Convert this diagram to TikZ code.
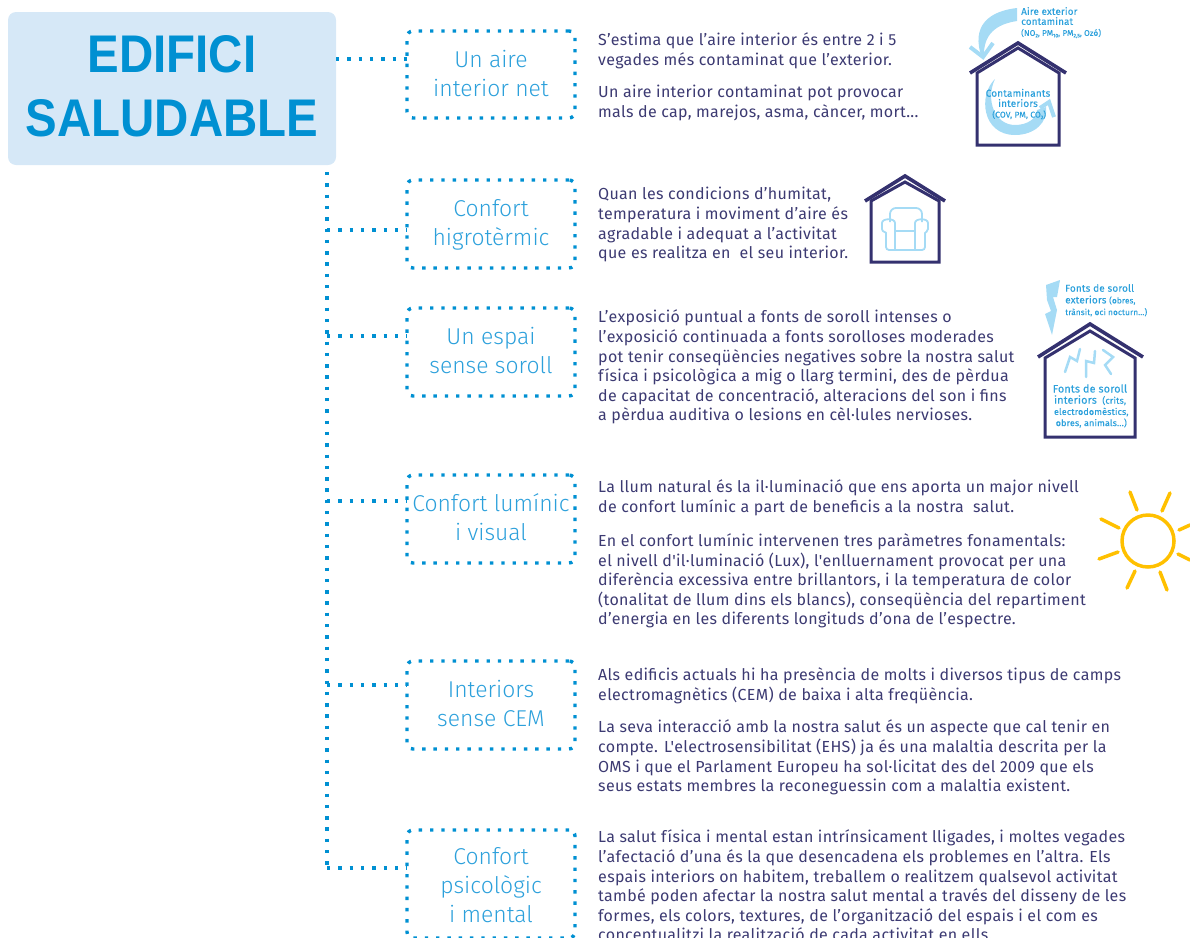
\documentclass[tikz,border=0pt]{standalone}
\usepackage{fontspec}
\setmainfont{Fira Sans Light}
\newfontfamily\bodyf[LetterSpace=2]{Fira Sans}
\newfontfamily\regf[LetterSpace=1.5,FakeBold=0.25]{Fira Sans}
\newfontfamily\titlef[FakeStretch=0.895]{Liberation Sans}
\definecolor{bluedark}{HTML}{0090D2}
\definecolor{bluelabel}{HTML}{2CA0DB}
\definecolor{bluelight}{HTML}{A5DBF5}
\definecolor{titlebg}{HTML}{D6E8F7}
\definecolor{indigo}{HTML}{34316F}
\definecolor{bodyc}{HTML}{3C3A72}
\definecolor{sunc}{HTML}{FFC000}
\tikzset{
  x=1pt,y=-1pt,
  dotline/.style={draw=bluedark,line width=3.4pt,dash pattern=on 3.4pt off 7.9pt},
  labelbox/.style={dotline,outer sep=0pt,rounded corners=6pt,minimum width=168pt,inner sep=0pt,align=center,text=bluelabel,font=\fontsize{22.9}{29}\selectfont,anchor=north west},
  bodytxt/.style={anchor=north west,inner sep=0pt,align=left,text=bodyc,font=\bodyf\fontsize{16}{19.6}\selectfont},
  wall/.style={draw=indigo,line width=3pt,line join=miter},
  roof/.style={draw=indigo,line width=3.6pt,line join=miter},
  tinya/.style={inner sep=0pt,align=left,anchor=north west,text=bluelabel,font=\regf\fontsize{9.8}{10}\selectfont},
  tinyb/.style={inner sep=0pt,align=center,text=bluelabel,font=\regf\fontsize{10}{10.2}\selectfont},
  lightline/.style={draw=bluelight,line width=4pt,line join=miter},
  bolt/.style={draw=bluelight,line width=2.5pt,line cap=round},
  chair/.style={draw=bluelight,line width=1.8pt,rounded corners=3pt},
  ray/.style={draw=sunc,line width=3.5pt,line cap=round}
}
\newcommand{\smalltxt}[1][8.2]{\fontsize{#1}{8}\selectfont}
\newcommand{\subtxt}[1]{\raisebox{-1.5pt}{\fontsize{5}{5}\selectfont #1}}
\newcommand{\lblend}[1]{\rule[-#1pt]{0pt}{#1pt}}
\begin{document}
\begin{tikzpicture}
\useasboundingbox (0,0) rectangle (1190,937);
\clip (0,0) rectangle (1190,937);
% title
\node[fill=titlebg,rounded corners=8pt,minimum width=328pt,minimum height=153pt,inner sep=0pt,outer sep=0pt,anchor=north west,align=center,text=bluedark,font=\titlef\bfseries\fontsize{53}{64}\selectfont] (title) at (8,12) {EDIFICI\\SALUDABLE\lblend{6}};
% label boxes
\node[labelbox,minimum height=87pt] (b1) at (407,31) {\strut Un aire\\interior net\lblend{5.6}};
\node[labelbox,minimum height=88pt] (b2) at (407,180) {\strut Confort\\higrotèrmic\lblend{5.6}};
\node[labelbox,minimum height=88pt] (b3) at (407,308) {\strut Un espai\\sense soroll\lblend{5.6}};
\node[labelbox,minimum height=88pt] (b4) at (407,475) {\strut Confort lumínic\\i visual\lblend{5.6}};
\node[labelbox,minimum height=88pt] (b5) at (407,661) {\strut Interiors\\sense CEM\lblend{5.6}};
\node[labelbox,minimum height=108pt] (b6) at (407,830) {\strut Confort\\psicològic\\i mental\lblend{1.3}};
% connectors
\coordinate (t0) at (327,172);
\coordinate (j1) at (336,59);
\coordinate (j2) at (327,230);
\coordinate (j3) at (327,336);
\coordinate (j4) at (327,501);
\coordinate (j5) at (327,685);
\coordinate (j6) at (327,868);
\draw[dotline] (j1) -- (b1.west |- j1);
\draw[dotline] (t0) -- (j6);
\draw[dotline] (j2) -- (b2.west |- j2);
\draw[dotline] (j3) -- (b3.west |- j3);
\draw[dotline] (j4) -- (b4.west |- j4);
\draw[dotline] (j5) -- (b5.west |- j5);
\draw[dotline] (j6) -- (b6.west |- j6);
% body text
\node[bodytxt] (p1) at (598,32) {\strut S’estima que l’aire interior és entre 2 i 5\\vegades més contaminat que l’exterior.};
\node[bodytxt] (p1b) at (598,84) {\strut Un aire interior contaminat pot provocar\\mals de cap, marejos, asma, càncer, mort...};
\node[bodytxt] (p2) at (598,186) {\strut Quan les condicions d’humitat,\\temperatura i moviment d’aire és\\agradable i adequat a l’activitat\\que es realitza en \ el seu interior.};
\node[bodytxt] (p3) at (598,309) {\strut L’exposició puntual a fonts de soroll intenses o\\l’exposició continuada a fonts sorolloses moderades\\pot tenir conseqüències negatives sobre la nostra salut\\física i psicològica a mig o llarg termini, des de pèrdua\\de capacitat de concentració, alteracions del son i fins\\a pèrdua auditiva o lesions en cèl·lules nervioses.};
\node[bodytxt] (p4) at (598,479) {\strut La llum natural és la il·luminació que ens aporta un major nivell\\de confort lumínic a part de beneficis a la nostra \ salut.};
\node[bodytxt] (p4b) at (598,532.5) {\strut En el confort lumínic intervenen tres paràmetres fonamentals:\\el nivell d'il·luminació (Lux), l'enlluernament provocat per una\\diferència excessiva entre brillantors, i la temperatura de color\\(tonalitat de llum dins els blancs), conseqüència del repartiment\\d’energia en les diferents longituds d’ona de l’espectre.};
\node[bodytxt] (p5) at (598,667) {\strut Als edificis actuals hi ha presència de molts i diversos tipus de camps\\electromagnètics (CEM) de baixa i alta freqüència.};
\node[bodytxt] (p5b) at (598,719) {\strut La seva interacció amb la nostra salut és un aspecte que cal tenir en\\compte. L'electrosensibilitat (EHS) ja és una malaltia descrita per la\\OMS i que el Parlament Europeu ha sol·licitat des del 2009 que els\\seus estats membres la reconeguessin com a malaltia existent.};
\node[bodytxt] (p6) at (598,829) {\strut La salut física i mental estan intrínsicament lligades, i moltes vegades\\l’afectació d’una és la que desencadena els problemes en l’altra. Els\\espais interiors on habitem, treballem o realitzem qualsevol activitat\\també poden afectar la nostra salut mental a través del disseny de les\\formes, els colors, textures, de l’organització del espais i el com es\\conceptualitzi la realització de cada activitat en ells.};
% house 1
\fill[bluelight] (1017,8) .. controls (990,11) and (970,25) .. (982,58) -- (984,58) .. controls (983,40) and (990,25) .. (1017,21) -- cycle;
\draw[lightline] (970,47) -- (983,57) -- (993,43);
\fill[bluelight] (995,79) .. controls (978,95) and (982,135) .. (1015,135) .. controls (1035,135) and (1048,122) .. (1046,107) -- (1037,110) .. controls (1037,118) and (1028,125) .. (1015,125) .. controls (995,125) and (985,100) .. (995,79) -- cycle;
\draw[lightline] (1040,108) -- (1049,102) -- (1054,117);
\draw[roof] (970,73) -- (1018,43) -- (1066,73);
\draw[wall] (977,73) -- (1018,48) -- (1059,73) -- (1059,145) -- (977,145) -- cycle;
\node[tinya] (h1a) at (1021,7) {Aire exterior\\contaminat\\[1pt]{\smalltxt (NO\subtxt{2}, PM\subtxt{10}, PM\subtxt{2,5}, Ozó)}};
\node[tinyb] (h1b) at (1018,104) {Contaminants\\interiors\\[0.5pt]{\smalltxt[8.4] (COV, PM, CO\subtxt{2})}};
% house 2
\draw[roof] (865,201) -- (905,176) -- (945,201);
\draw[wall] (871,201) -- (905,182) -- (939,201) -- (939,262) -- (871,262) -- cycle;
\draw[chair,rounded corners=6pt] (890,222) -- (890,208) -- (922,208) -- (922,222);
\draw[chair] (895,250) -- (895,226) .. controls (895,218) and (882,218) .. (882,226) .. controls (882,232) and (886,232) .. (886,236) -- (886,250) -- (925,250) -- (925,236) .. controls (925,232) and (928,232) .. (928,226) .. controls (928,218) and (915,218) .. (915,226) -- (915,250);
\draw[chair] (895,231) -- (915,231);
% house 3
\fill[bluelight] (1046,285) -- (1060,280) -- (1057,297) -- (1053,297) -- (1057,310) -- (1052,335) -- (1045,314) -- (1051,311) -- (1047,300) -- cycle;
\draw[roof] (1038,357) -- (1090,324) -- (1143,357);
\draw[wall] (1045,358) -- (1090,331) -- (1135,358) -- (1135,437) -- (1045,437) -- cycle;
\draw[bolt] (1080,349) -- (1077,361) -- (1070,357) -- (1065,372);
\draw[bolt] (1095,351) -- (1094,363) -- (1086,361) -- (1086,377);
\draw[bolt] (1103,350) -- (1113,357) -- (1105,365) -- (1111,374);
\node[tinya,font=\regf\fontsize{10}{11.7}\selectfont] (h3a) at (1065,284) {Fonts de soroll\\exteriors {\smalltxt (obres,}\\{\smalltxt trànsit, oci nocturn...)}};
\node[tinyb,font=\regf\fontsize{10.8}{11.2}\selectfont] (h3b) at (1090,406) {Fonts de soroll\\interiors {\smalltxt[9] (crits,}\\{\smalltxt[9] electrodomèstics,}\\{\smalltxt[9] obres, animals...)}};
% sun
\draw[sunc,line width=3.5pt] (1148,541) circle (26);
\draw[ray] (1130,492) -- (1137,510);
\draw[ray] (1170,493) -- (1162,511);
\draw[ray] (1101,519) -- (1119,528);
\draw[ray] (1190,525) -- (1179,530);
\draw[ray] (1099,559) -- (1118,552);
\draw[ray] (1178,554) -- (1190,560);
\draw[ray] (1135,571) -- (1127,588);
\draw[ray] (1160,572) -- (1167,590);
\end{tikzpicture}
\end{document}
